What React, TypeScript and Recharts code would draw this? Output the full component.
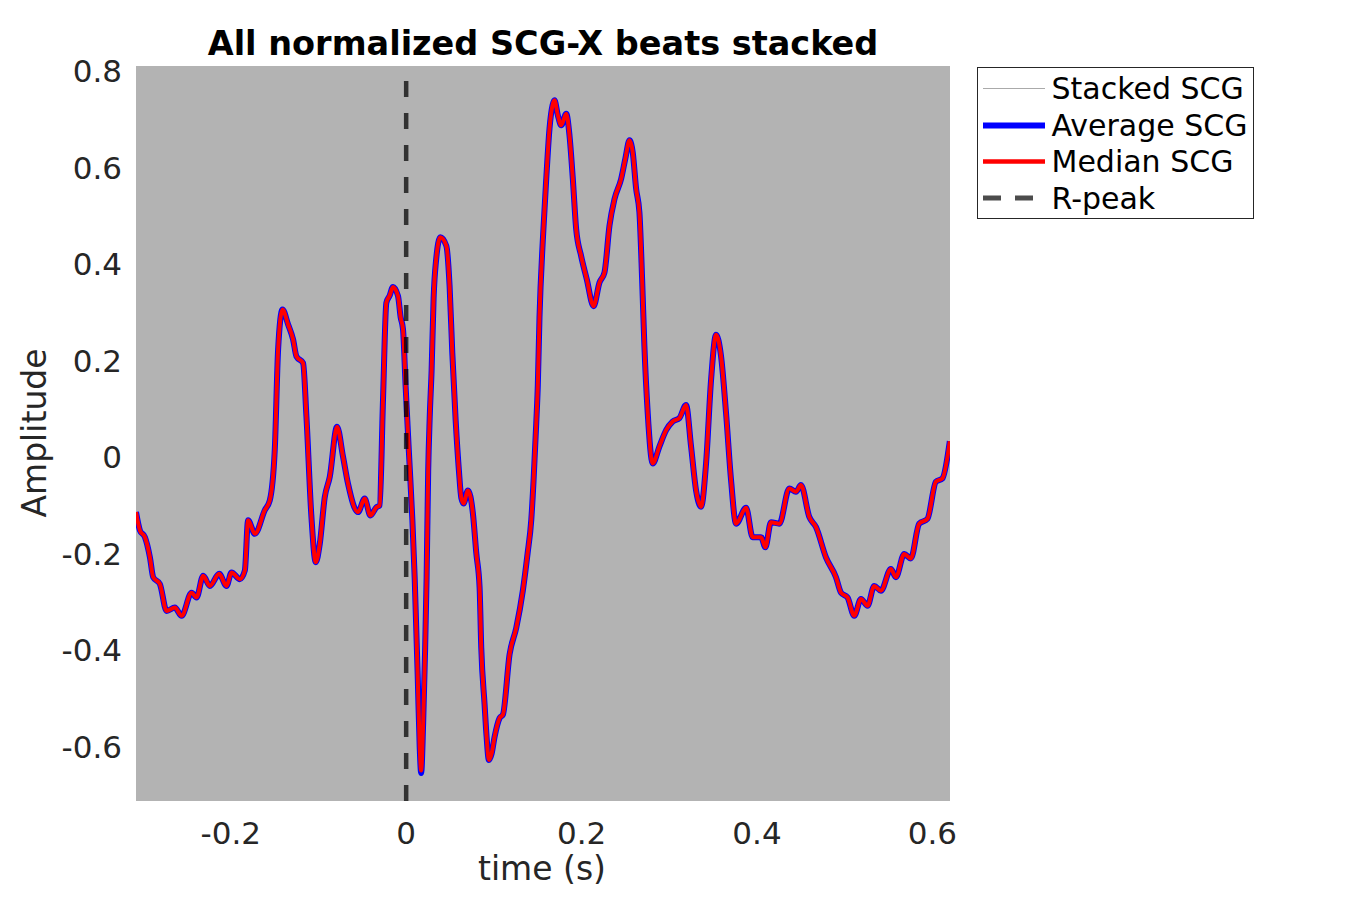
import React from 'react';
import { ComposedChart, Line, XAxis, YAxis, CartesianGrid, ReferenceLine } from 'recharts';

// time axis (s)
const timeSec = [
  -0.308, -0.3035, -0.2978, -0.2921, -0.2884, -0.2808, -0.2731, -0.2637, -0.256, -0.2446,
  -0.239, -0.2314, -0.2238, -0.2132, -0.2048, -0.1991, -0.1896, -0.1839, -0.1802, -0.1725,
  -0.1612, -0.1555, -0.1498, -0.146, -0.141, -0.1346, -0.1289, -0.1251, -0.1175, -0.1137,
  -0.108, -0.1031, -0.0985, -0.0928, -0.0871, -0.0788, -0.072, -0.0663, -0.0549, -0.0473,
  -0.0408, -0.0339, -0.0302, -0.0264, -0.0226, -0.0188, -0.015, -0.0093, -0.0063, -0.0036,
  -0.0006, 0.0032, 0.0071, 0.0097, 0.0131, 0.0154, 0.0171, 0.0194, 0.0216, 0.0233,
  0.0251, 0.0268, 0.029, 0.0313, 0.0342, 0.039, 0.0458, 0.0495, 0.0526, 0.0564,
  0.0601, 0.0629, 0.0655, 0.0704, 0.0761, 0.08, 0.0837, 0.0856, 0.0894, 0.0917,
  0.0943, 0.0974, 0.1008, 0.1065, 0.1103, 0.1179, 0.1255, 0.133, 0.1384, 0.1426,
  0.1452, 0.1483, 0.1501, 0.152, 0.1558, 0.1597, 0.1634, 0.1669, 0.1691, 0.1729,
  0.1768, 0.1825, 0.1862, 0.19, 0.1938, 0.1995, 0.2059, 0.2136, 0.2204, 0.2261,
  0.2318, 0.2375, 0.2451, 0.25, 0.2546, 0.2583, 0.2622, 0.2659, 0.269, 0.2716,
  0.2754, 0.2811, 0.2887, 0.2964, 0.3039, 0.3115, 0.3191, 0.3248, 0.3305, 0.3362,
  0.3419, 0.3476, 0.3533, 0.359, 0.3647, 0.3704, 0.3761, 0.3875, 0.395, 0.4046,
  0.4095, 0.4159, 0.4254, 0.4368, 0.4444, 0.4501, 0.4596, 0.4672, 0.4786, 0.49,
  0.4957, 0.5032, 0.5108, 0.5185, 0.526, 0.5336, 0.5412, 0.5526, 0.5583, 0.5678,
  0.5754, 0.5848, 0.5943, 0.6039, 0.6114, 0.6198,
];

// Average SCG amplitude
const averageScg = [
  -0.114, -0.152, -0.166, -0.208, -0.249, -0.263, -0.319, -0.312, -0.329, -0.281,
  -0.291, -0.246, -0.267, -0.242, -0.267, -0.239, -0.253, -0.235, -0.131, -0.159,
  -0.11, -0.09, 0.015, 0.223, 0.306, 0.275, 0.244, 0.209, 0.195, 0.084,
  -0.124, -0.218, -0.18, -0.083, -0.041, 0.063, 0.001, -0.055, -0.114, -0.086,
  -0.121, -0.104, -0.1, 0.119, 0.32, 0.335, 0.353, 0.334, 0.29, 0.265,
  0.146, 0.008, -0.131, -0.25, -0.45, -0.6, -0.655, -0.55, -0.4, -0.25,
  -0.03, 0.08, 0.18, 0.33, 0.41, 0.456, 0.438, 0.355, 0.216, 0.077,
  -0.027, -0.085, -0.096, -0.069, -0.117, -0.2, -0.27, -0.395, -0.513, -0.58,
  -0.628, -0.615, -0.58, -0.541, -0.534, -0.409, -0.354, -0.277, -0.2, -0.131,
  -0.05, 0.07, 0.15, 0.29, 0.45, 0.577, 0.681, 0.73, 0.74, 0.709,
  0.688, 0.712, 0.667, 0.577, 0.473, 0.417, 0.369, 0.313, 0.362, 0.383,
  0.48, 0.535, 0.577, 0.62, 0.657, 0.632, 0.556, 0.508, 0.369, 0.23,
  0.091, -0.013, 0.022, 0.056, 0.074, 0.081, 0.108, 0.022, -0.069, -0.103,
  -0.013, 0.16, 0.254, 0.209, 0.091, -0.048, -0.138, -0.105, -0.166, -0.166,
  -0.187, -0.135, -0.138, -0.065, -0.072, -0.058, -0.124, -0.145, -0.208, -0.249,
  -0.281, -0.291, -0.329, -0.294, -0.308, -0.267, -0.277, -0.232, -0.249, -0.201,
  -0.21, -0.138, -0.128, -0.051, -0.044, 0.033,
];

// Median SCG amplitude (overlaps the average in the picture)
const medianScg = [
  -0.114, -0.152, -0.166, -0.208, -0.249, -0.263, -0.319, -0.312, -0.329, -0.281,
  -0.291, -0.246, -0.267, -0.242, -0.267, -0.239, -0.253, -0.235, -0.131, -0.159,
  -0.11, -0.09, 0.015, 0.223, 0.306, 0.275, 0.244, 0.209, 0.195, 0.084,
  -0.124, -0.218, -0.18, -0.083, -0.041, 0.063, 0.001, -0.055, -0.114, -0.086,
  -0.121, -0.104, -0.1, 0.119, 0.32, 0.335, 0.353, 0.334, 0.29, 0.265,
  0.146, 0.008, -0.131, -0.25, -0.45, -0.6, -0.65, -0.55, -0.4, -0.25,
  -0.03, 0.08, 0.18, 0.33, 0.41, 0.456, 0.438, 0.355, 0.216, 0.077,
  -0.027, -0.085, -0.096, -0.069, -0.117, -0.2, -0.27, -0.395, -0.513, -0.58,
  -0.628, -0.615, -0.58, -0.541, -0.534, -0.409, -0.354, -0.277, -0.2, -0.131,
  -0.05, 0.07, 0.15, 0.29, 0.45, 0.577, 0.681, 0.73, 0.74, 0.709,
  0.688, 0.712, 0.667, 0.577, 0.473, 0.417, 0.369, 0.313, 0.362, 0.383,
  0.48, 0.535, 0.577, 0.62, 0.657, 0.632, 0.556, 0.508, 0.369, 0.23,
  0.091, -0.013, 0.022, 0.056, 0.074, 0.081, 0.108, 0.022, -0.069, -0.103,
  -0.013, 0.16, 0.254, 0.209, 0.091, -0.048, -0.138, -0.105, -0.166, -0.166,
  -0.187, -0.135, -0.138, -0.065, -0.072, -0.058, -0.124, -0.145, -0.208, -0.249,
  -0.281, -0.291, -0.329, -0.294, -0.308, -0.267, -0.277, -0.232, -0.249, -0.201,
  -0.21, -0.138, -0.128, -0.051, -0.044, 0.033,
];

const xTicks = [-0.2, 0, 0.2, 0.4, 0.6];
const yTicks = [-0.6, -0.4, -0.2, 0, 0.2, 0.4, 0.6, 0.8];
const rPeakTime = 0;

const legendItems = ['Stacked SCG', 'Average SCG', 'Median SCG', 'R-peak'];

const rows = timeSec.map((t, i) => ({ t, avg: averageScg[i], med: medianScg[i] }));

const FONT = 'DejaVu Sans';
const W = 1342;
const H = 892;

const fmt = (v: number) => String(v);

export default function App() {
  const tickStyle = { fontSize: 31, fill: '#262626', fontFamily: FONT };
  const lx0 = 975;
  const lx1 = 1037;
  const rowY = [80.5, 117.5, 153.5, 190];
  return (
    <div style={{ position: 'relative', width: W, height: H, background: '#fff' }}>
      <ComposedChart
        width={W}
        height={H}
        data={rows}
        margin={{ top: 58, right: 400, bottom: 0, left: 0 }}
      >
        <CartesianGrid fill="#b3b3b3" stroke="none" horizontal={false} vertical={false} />
        <XAxis
          type="number"
          dataKey="t"
          domain={[-0.308, 0.62]}
          allowDataOverflow
          ticks={xTicks}
          interval={0}
          height={99}
          axisLine={false}
          tickLine={false}
          tickSize={0}
          tickMargin={21}
          tick={tickStyle}
          tickFormatter={fmt}
        />
        <YAxis
          type="number"
          domain={[-0.713, 0.811]}
          allowDataOverflow
          ticks={yTicks}
          interval={0}
          width={128}
          axisLine={false}
          tickLine={false}
          tickSize={0}
          tickMargin={14}
          tick={tickStyle}
          tickFormatter={fmt}
        />
        <Line
          dataKey="avg"
          type="monotone"
          stroke="#0000ff"
          strokeWidth={6}
          strokeLinejoin="round"
          dot={false}
          activeDot={false}
          isAnimationActive={false}
        />
        <Line
          dataKey="med"
          type="monotone"
          stroke="#ff0000"
          strokeWidth={4}
          strokeLinejoin="round"
          dot={false}
          activeDot={false}
          isAnimationActive={false}
        />
        <ReferenceLine
          x={rPeakTime}
          stroke="#000000"
          strokeOpacity={0.72}
          strokeWidth={4.5}
          strokeDasharray="16 16"
        />
      </ComposedChart>
      <svg
        width={W}
        height={H}
        style={{ position: 'absolute', left: 0, top: 0, pointerEvents: 'none' }}
      >
        <text x={535} y={47} textAnchor="middle" fontFamily={FONT} fontWeight="bold" fontSize={33.5} fill="#000">
          All normalized SCG-X beats stacked
        </text>
        <text x={534} y={872} textAnchor="middle" fontFamily={FONT} fontSize={33} fill="#262626">
          time (s)
        </text>
        <text
          x={38}
          y={425}
          transform="rotate(-90, 38, 425)"
          textAnchor="middle"
          fontFamily={FONT}
          fontSize={33}
          fill="#262626"
        >
          Amplitude
        </text>
        <rect x={969.5} y={59.5} width={276} height={151} fill="#fff" stroke="#262626" strokeWidth={1} />
        <line x1={lx0} x2={lx1} y1={rowY[0]} y2={rowY[0]} stroke="#aaaaaa" strokeWidth={1} />
        <line x1={lx0} x2={lx1} y1={rowY[1]} y2={rowY[1]} stroke="#0000ff" strokeWidth={6} />
        <line x1={lx0} x2={lx1} y1={rowY[2]} y2={rowY[2]} stroke="#ff0000" strokeWidth={4.5} />
        <line
          x1={lx0}
          x2={lx1}
          y1={rowY[3]}
          y2={rowY[3]}
          stroke="#000"
          strokeOpacity={0.7}
          strokeWidth={5}
          strokeDasharray="18 14"
        />
        {legendItems.map((label, i) => (
          <text key={label} x={1043.5} y={rowY[i]} dy="0.36em" fontFamily={FONT} fontSize={30} fill="#000">
            {label}
          </text>
        ))}
      </svg>
    </div>
  );
}
